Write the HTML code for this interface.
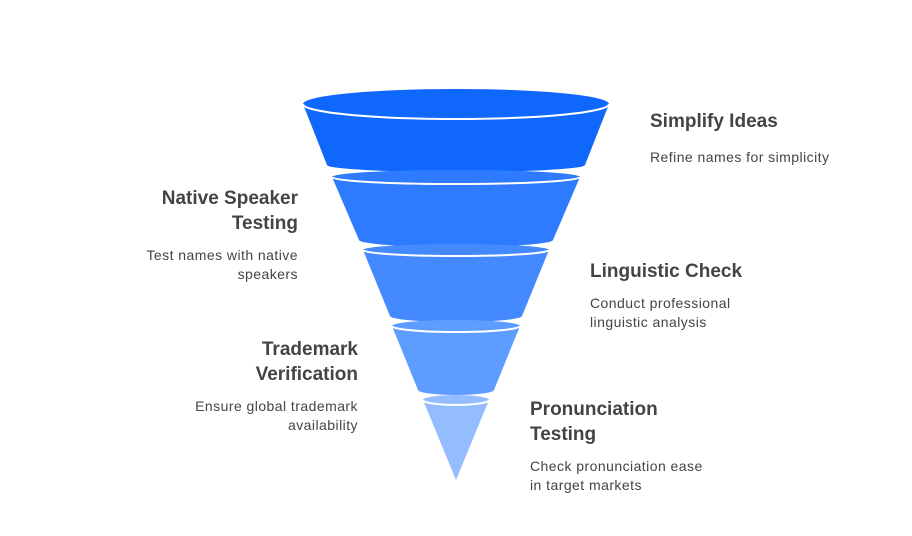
<!DOCTYPE html>
<html><head><meta charset="utf-8"><style>
body{margin:0;background:#fff;width:912px;height:536px;overflow:hidden;position:relative;font-family:"Liberation Sans",Arial,sans-serif}
.t{position:absolute;font-weight:bold;font-size:19px;color:#444;line-height:25px}
.d{position:absolute;font-size:14px;letter-spacing:0.45px;color:#444;line-height:19px}
.r{text-align:right}
</style></head><body>
<svg width="912" height="536" style="position:absolute;left:0;top:0">
<g stroke="none">
<path d="M303,104 A153,15 0 0 1 609,104 L585,165 A129,7 0 0 1 327,165 Z" fill="#0f67fb"/>
<path d="M303,104 A153,15 0 0 0 609,104" fill="none" stroke="#fff" stroke-width="2"/>
<path d="M332,177 A124,7 0 0 1 580,177 L553,240 A97,7 0 0 1 359,240 Z" fill="#2e7bff"/>
<path d="M332,177 A124,7 0 0 0 580,177" fill="none" stroke="#fff" stroke-width="2"/>
<path d="M363,250 A93,6 0 0 1 549,250 L522,316 A66,6 0 0 1 390,316 Z" fill="#4589ff"/>
<path d="M363,250 A93,6 0 0 0 549,250" fill="none" stroke="#fff" stroke-width="2"/>
<path d="M392,326 A64,6 0 0 1 520,326 L494,390 A38,5 0 0 1 418,390 Z" fill="#5e9cff"/>
<path d="M392,326 A64,6 0 0 0 520,326" fill="none" stroke="#fff" stroke-width="2"/>
<path d="M423,400 A33,5 0 0 1 489,400 L456,480 Z" fill="#94bdff"/>
<path d="M423,400 A33,5 0 0 0 489,400" fill="none" stroke="#fff" stroke-width="2"/>
</g>
</svg>
<div class="t" style="left:650px;top:109px">Simplify Ideas</div>
<div class="d" style="left:650px;top:148px">Refine names for simplicity</div>
<div class="t r" style="right:614px;top:186px">Native Speaker<br>Testing</div>
<div class="d r" style="right:614px;top:246px">Test names with native<br>speakers</div>
<div class="t" style="left:590px;top:259px">Linguistic Check</div>
<div class="d" style="left:590px;top:294px">Conduct professional<br>linguistic analysis</div>
<div class="t r" style="right:554px;top:337px">Trademark<br>Verification</div>
<div class="d r" style="right:554px;top:397px">Ensure global trademark<br>availability</div>
<div class="t" style="left:530px;top:397px">Pronunciation<br>Testing</div>
<div class="d" style="left:530px;top:457px">Check pronunciation ease<br>in target markets</div>
</body></html>
